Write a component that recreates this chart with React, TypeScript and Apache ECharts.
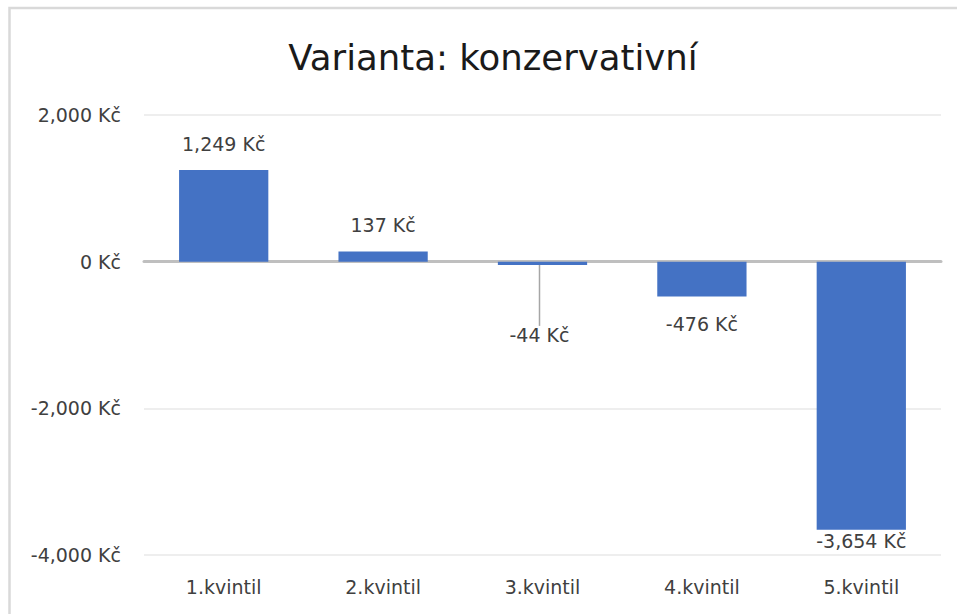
import React, { useEffect, useRef } from "react";
import * as echarts from "echarts";

const TITLE = "Varianta: konzervativní";
const categories = ["1.kvintil", "2.kvintil", "3.kvintil", "4.kvintil", "5.kvintil"];
const values = [1249, 137, -44, -476, -3654];
const yMin = -4000;
const yMax = 2000;
const yStep = 2000;

const FONT = "DejaVu Sans";

function fmt(v: number): string {
  const s = Math.abs(v).toString().replace(/\B(?=(\d{3})+(?!\d))/g, ",");
  return (v < 0 ? "-" : "") + s + " Kč";
}

export default function App() {
  const ref = useRef<HTMLDivElement>(null);
  useEffect(() => {
    if (!ref.current) return;
    const chart = echarts.init(ref.current, null, { renderer: "svg" });
    const data = values.map((v, i) => {
      const item: any = { value: v, labelLine: { show: false } };
      if (v < 0) {
        item.label = { position: "bottom", distance: 18 };
      }
      if (i === values.length - 1) {
        item.label = { position: "bottom", distance: 2 };
      }
      if (i === 2) {
        item.labelLine = { show: true, lineStyle: { color: "#a6a6a6", width: 1.5 } };
      }
      return item;
    });
    chart.setOption({
      animation: false,
      backgroundColor: "#ffffff",
      title: {
        text: TITLE,
        left: 488,
        textAlign: "center",
        top: 34,
        textStyle: { fontFamily: FONT, fontSize: 35.5, fontWeight: "normal", color: "#1a1a1a" },
      },
      graphic: [
        {
          type: "rect",
          shape: { x: 9.5, y: 8, width: 2000, height: 2000 },
          style: { fill: "none", stroke: "#d9d9d9", lineWidth: 2.5 },
          silent: true,
        },
      ],
      grid: { left: 144, right: 16, top: 115, bottom: 59 },
      xAxis: [
        {
          type: "category",
          data: categories,
          position: "bottom",
          axisLine: { show: false, onZero: false },
          axisTick: { show: false },
          axisLabel: { fontFamily: FONT, fontSize: 19, color: "#404040", margin: 22 },
        },
        {
          type: "category",
          data: categories,
          position: "bottom",
          axisLine: { show: true, onZero: true, lineStyle: { color: "#bfbfbf", width: 3 } },
          axisTick: { show: false },
          axisLabel: { show: false },
        },
      ],
      yAxis: {
        type: "value",
        min: yMin,
        max: yMax,
        interval: yStep,
        axisLine: { show: false },
        axisTick: { show: false },
        splitLine: { lineStyle: { color: "#e8e8e8", width: 1.5 } },
        axisLabel: {
          fontFamily: FONT,
          fontSize: 19,
          color: "#404040",
          margin: 23,
          formatter: (v: number) => fmt(v),
        },
      },
      series: [
        {
          type: "bar",
          xAxisIndex: 0,
          data,
          barCategoryGap: "44%",
          itemStyle: { color: "#4472C4" },
          label: {
            show: true,
            position: "top",
            distance: 17,
            fontFamily: FONT,
            fontSize: 19,
            color: "#404040",
            formatter: (p: any) => fmt(p.value),
          },
          labelLine: { show: false },
          labelLayout: (p: any) => (p.dataIndex === 2 ? { dx: -3, dy: 43 } : {}),
          z: 1,
        },
      ],
    });
    return () => chart.dispose();
  }, []);
  return (
    <div
      ref={ref}
      style={{ position: "absolute", left: 0, top: 0, width: 957, height: 614 }}
    />
  );
}
